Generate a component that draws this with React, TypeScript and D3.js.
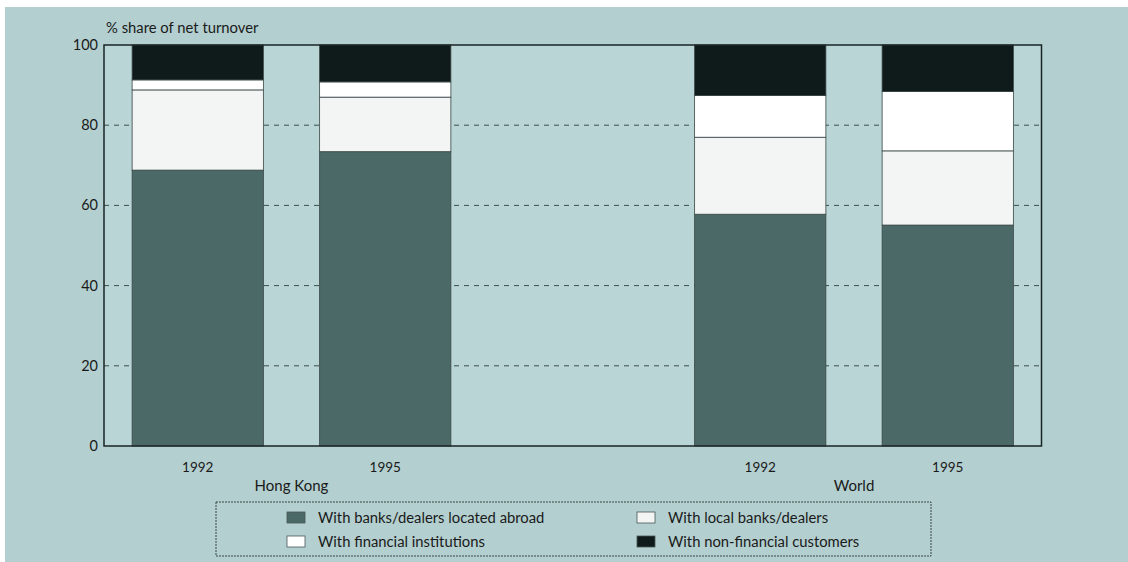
import React from "react";
import * as d3 from "d3";

// Share of net foreign-exchange turnover by counterparty, 1992 and 1995
const regions = ["Hong Kong", "World"];
const years = ["1992", "1995"];
const slots = ["HK-1992", "HK-1995", "gap", "W-1992", "W-1995"];
const barSlots = ["HK-1992", "HK-1995", "W-1992", "W-1995"];

const seriesNames = [
  "With banks/dealers located abroad",
  "With local banks/dealers",
  "With financial institutions",
  "With non-financial customers",
];
const seriesColors = ["#4b6967", "#f2f5f4", "#ffffff", "#0f1b1b"];

// values per bar, in the order of barSlots
const abroad = [68.8, 73.4, 57.8, 55.1];
const localBanks = [20.0, 13.6, 19.2, 18.5];
const financial = [2.5, 3.8, 10.4, 14.8];
const nonFinancial = [8.7, 9.2, 12.6, 11.6];

const yTicks = [0, 20, 40, 60, 80, 100];

const W = 1128;
const H = 562;
const plot = { left: 104, right: 1041.5, top: 45, bottom: 446 };
const FONT = "Lato, 'Open Sans', sans-serif";

export default function App() {
  const x = d3
    .scaleBand<string>()
    .domain(slots)
    .range([plot.left, plot.right])
    .paddingInner(0.3)
    .paddingOuter(0.15);
  const y = d3.scaleLinear().domain([0, 100]).range([plot.bottom, plot.top]);

  const rows = barSlots.map((key, i) => ({
    key,
    s0: abroad[i],
    s1: localBanks[i],
    s2: financial[i],
    s3: nonFinancial[i],
  }));
  const stack = d3.stack<any>().keys(["s0", "s1", "s2", "s3"]);
  const layers = stack(rows);

  const center = (k: string) => (x(k) as number) + x.bandwidth() / 2;

  const legendItems = [
    { i: 0, col: 0, row: 0 },
    { i: 1, col: 1, row: 0 },
    { i: 2, col: 0, row: 1 },
    { i: 3, col: 1, row: 1 },
  ];

  return (
    <svg
      width={W}
      height={H}
      style={{ position: "absolute", left: 0, top: 0, display: "block" }}
      fontFamily={FONT}
    >
      <rect x={0} y={0} width={W} height={H} fill="#ffffff" />
      <rect x={5} y={7} width={W - 5} height={H - 7} fill="#b3cfcf" />
      <rect
        x={plot.left}
        y={plot.top}
        width={plot.right - plot.left}
        height={plot.bottom - plot.top}
        fill="#b9d5d5"
      />

      {/* dashed gridlines */}
      {yTicks
        .filter((t) => t > 0 && t < 100)
        .map((t) => (
          <line
            key={t}
            x1={plot.left}
            x2={plot.right}
            y1={y(t)}
            y2={y(t)}
            stroke="#3d4f4f"
            strokeWidth={1}
            strokeDasharray="5,5"
          />
        ))}

      {/* stacked bars */}
      {layers.map((layer, li) => (
        <g key={li}>
          {layer.map((d, bi) => (
            <rect
              key={bi}
              x={x(rows[bi].key)}
              y={y(d[1])}
              width={x.bandwidth()}
              height={y(d[0]) - y(d[1])}
              fill={seriesColors[li]}
              stroke="#3a4646"
              strokeWidth={0.8}
            />
          ))}
        </g>
      ))}

      {/* frame */}
      <rect
        x={plot.left}
        y={plot.top}
        width={plot.right - plot.left}
        height={plot.bottom - plot.top}
        fill="none"
        stroke="#1a2424"
        strokeWidth={1.5}
      />

      {/* y axis labels */}
      {yTicks.map((t) => (
        <text
          key={t}
          x={plot.left - 6}
          y={y(t)}
          dy="0.35em"
          textAnchor="end"
          fontSize={14.5}
          fill="#1a1a1a"
        >
          {t}
        </text>
      ))}
      <text x={106} y={33} fontSize={14.8} fill="#1a1a1a">
        % share of net turnover
      </text>

      {/* year and region labels */}
      {barSlots.map((k, i) => (
        <text
          key={k}
          x={center(k)}
          y={472}
          textAnchor="middle"
          fontSize={13.5}
          fill="#1a1a1a"
        >
          {years[i % 2]}
        </text>
      ))}
      {regions.map((r, ri) => (
        <text
          key={r}
          x={(center(barSlots[ri * 2]) + center(barSlots[ri * 2 + 1])) / 2}
          y={491}
          textAnchor="middle"
          fontSize={15}
          fill="#1a1a1a"
        >
          {r}
        </text>
      ))}

      {/* legend */}
      <rect
        x={216}
        y={502}
        width={715}
        height={54}
        fill="none"
        stroke="#3a4646"
        strokeWidth={1}
        strokeDasharray="2,1"
      />
      {legendItems.map(({ i, col, row }) => {
        const lx = col === 0 ? 287 : 637;
        const ly = 512 + row * 24;
        return (
          <g key={i}>
            <rect
              x={lx}
              y={ly}
              width={18}
              height={11}
              fill={seriesColors[i]}
              stroke="#4a5656"
              strokeWidth={0.8}
            />
            <text x={lx + 31} y={ly + 11} fontSize={14.8} fill="#1a1a1a">
              {seriesNames[i]}
            </text>
          </g>
        );
      })}
    </svg>
  );
}
